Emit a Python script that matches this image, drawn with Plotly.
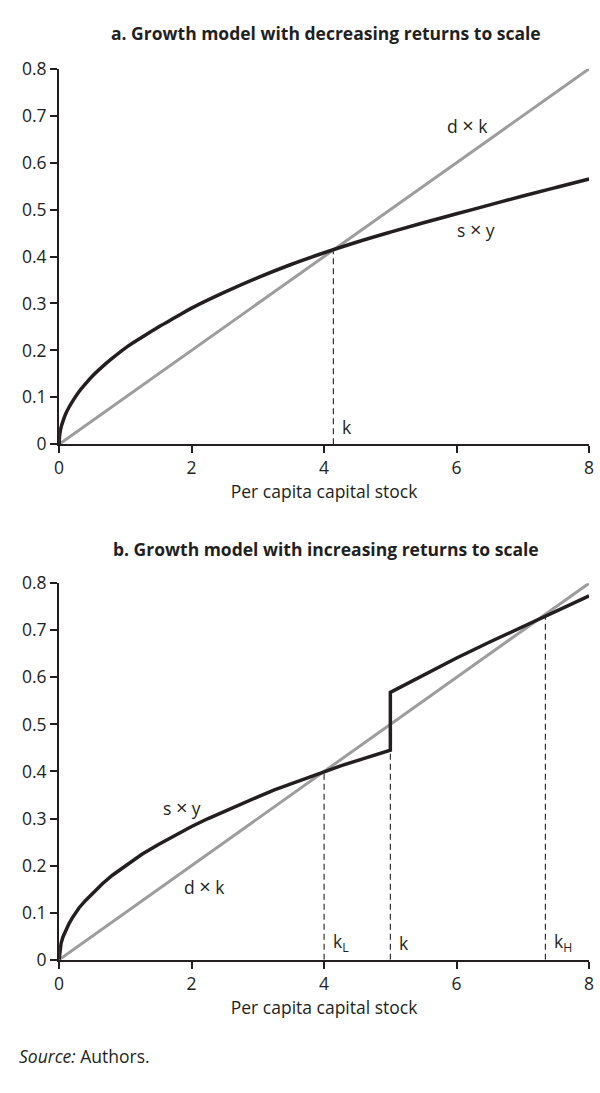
import plotly.graph_objects as go

# Panel a: decreasing returns to scale
k_a = [0, 0.01, 0.03, 0.06, 0.1, 0.15, 0.2, 0.3, 0.4, 0.5, 0.65, 0.8, 1, 1.25, 1.5, 1.75, 2, 2.5, 3, 3.5,
       4, 4.5, 5, 5.5, 6, 6.5, 7, 7.5, 8]
sy_a = [0, 0.021, 0.036, 0.05, 0.065, 0.079, 0.091, 0.112, 0.129, 0.145, 0.165, 0.183, 0.205, 0.228,
        0.25, 0.27, 0.29, 0.324, 0.355, 0.383, 0.408, 0.431, 0.452, 0.472, 0.491, 0.51, 0.529, 0.547, 0.565]
dep_k = [0, 8]
dep_a = [0, 0.8]
kstar_a = 4.14
kstar_a_y = 0.414

# Panel b: increasing returns to scale (jump at k = 5)
k_b = [0, 0.01, 0.03, 0.06, 0.1, 0.15, 0.2, 0.3, 0.4, 0.5, 0.65, 0.8, 1, 1.25, 1.5, 1.75, 2, 2.25, 2.5,
       2.75, 3, 3.25, 3.5, 3.75, 4, 4.25, 4.5, 4.75, 5,
       5, 5.5, 6, 6.5, 7, 7.5, 8]
sy_b = [0, 0.02, 0.035, 0.049, 0.063, 0.077, 0.089, 0.11, 0.126, 0.141, 0.161, 0.179, 0.2, 0.224,
        0.245, 0.265, 0.283, 0.3, 0.316, 0.332, 0.346, 0.361, 0.374, 0.387, 0.4, 0.412, 0.423, 0.434, 0.445,
        0.568, 0.605, 0.641, 0.675, 0.708, 0.741, 0.773]
dep_b = [0, 0.8]
kL, kL_y = 4.0, 0.4
kM, kM_y = 5.0, 0.5
kH, kH_y = 7.34, 0.734

x_ticks = [0, 2, 4, 6, 8]
y_ticks = [0, 0.1, 0.2, 0.3, 0.4, 0.5, 0.6, 0.7, 0.8]
y_ticktext = ["0", "0.1", "0.2", "0.3", "0.4", "0.5", "0.6", "0.7", "0.8"]

TXT = "#231f20"
GRAY = "#9d9d9d"
FONT = "Open Sans"
FS = 17.5

fig = go.Figure()

def add_panel(xa, ya, k, sy, dep, dashes, shape):
    for xv, yv in dashes:
        fig.add_trace(go.Scatter(x=[xv, xv], y=[0, yv], mode="lines",
                                 line=dict(color=TXT, width=1.1, dash="6px,4px"),
                                 xaxis=xa, yaxis=ya, hoverinfo="skip", cliponaxis=False))
    fig.add_trace(go.Scatter(x=dep_k, y=dep, mode="lines", line=dict(color=GRAY, width=3),
                             xaxis=xa, yaxis=ya, cliponaxis=False))
    fig.add_trace(go.Scatter(x=k, y=sy, mode="lines", line=dict(color=TXT, width=3.5, shape=shape),
                             xaxis=xa, yaxis=ya, cliponaxis=False))

add_panel("x", "y", k_a, sy_a, dep_a, [(kstar_a, kstar_a_y)], "spline")
add_panel("x2", "y2", k_b, sy_b, dep_b, [(kL, kL_y), (kM, kM_y), (kH, kH_y)], "linear")

H = 1093.0
def py(px):
    return 1 - px / H

xl, xr = 55 / 600, 594 / 600

axis_common = dict(showline=True, linecolor=TXT, linewidth=2, ticks="outside", ticklen=7,
                   tickwidth=1.6, tickcolor=TXT, showgrid=False, zeroline=False,
                   tickfont=dict(family=FONT, size=FS, color=TXT), fixedrange=True)
xtitle = dict(text="Per capita capital stock", font=dict(family=FONT, size=FS, color=TXT), standoff=6)

fig.update_layout(
    width=600, height=1093,
    margin=dict(l=0, r=0, t=0, b=0),
    paper_bgcolor="white", plot_bgcolor="white",
    showlegend=False,
    font=dict(family=FONT, color=TXT),
    xaxis=dict(domain=[xl, xr], range=[0, 8], tickvals=x_ticks, anchor="y", title=xtitle, **axis_common),
    yaxis=dict(domain=[py(441), py(57)], range=[0, 0.8], tickvals=y_ticks, ticktext=y_ticktext, anchor="x",
               **axis_common),
    xaxis2=dict(domain=[xl, xr], range=[0, 8], tickvals=x_ticks, anchor="y2", title=xtitle, **axis_common),
    yaxis2=dict(domain=[py(968), py(583)], range=[0, 0.8], tickvals=y_ticks, ticktext=y_ticktext, anchor="x2",
                **axis_common),
)

ann = []
def label(text, x, y, xa, ya, xanchor="center", size=FS):
    ann.append(dict(text=text, x=x, y=y, xref=xa, yref=ya, showarrow=False, xanchor=xanchor,
                    yanchor="middle", font=dict(family=FONT, size=size, color=TXT)))

def paper_text(text, x, ypx, xanchor="center", size=FS):
    ann.append(dict(text=text, x=x, y=py(ypx), xref="paper", yref="paper", showarrow=False,
                    xanchor=xanchor, yanchor="middle", font=dict(family=FONT, size=size, color=TXT)))

TIMES = '<span style="font-size:20px">×</span>'

paper_text("<b>a. Growth model with decreasing returns to scale</b>", 326 / 600, 20, size=17.5)
paper_text("<b>b. Growth model with increasing returns to scale</b>", 326 / 600, 548, size=17.5)
paper_text("<i>Source:</i> Authors.", 12 / 600, 1066, xanchor="left")

label(f"d {TIMES} k", 6.16, 0.68, "x", "y")
label(f"s {TIMES} y", 6.3, 0.458, "x", "y")
label("k", 4.24, 0.036, "x", "y", xanchor="left")

label(f"s {TIMES} y", 1.85, 0.323, "x2", "y2")
label(f"d {TIMES} k", 2.2, 0.156, "x2", "y2")
label("k<sub>L</sub>", 4.1, 0.036, "x2", "y2", xanchor="left")
label("k", 5.1, 0.036, "x2", "y2", xanchor="left")
label("k<sub>H</sub>", 7.44, 0.036, "x2", "y2", xanchor="left")

fig.update_layout(annotations=ann)

fig.write_html("out.html")
